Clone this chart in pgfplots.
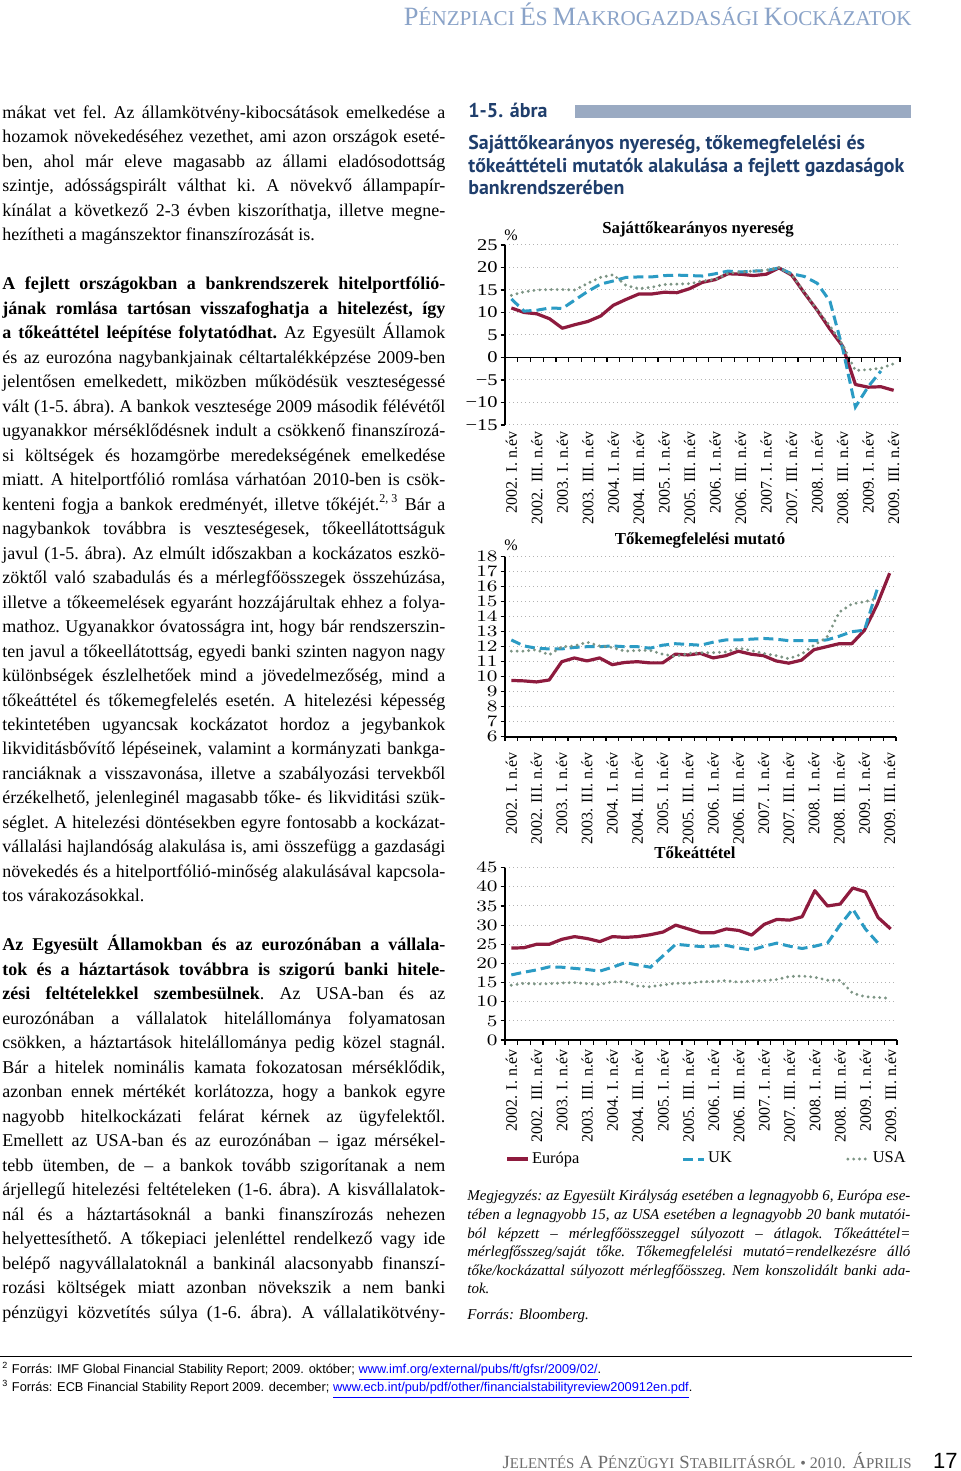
\documentclass[border=0pt]{standalone}
\usepackage{pgfplots}
\pgfplotsset{compat=1.18}
\usepackage{pgfplotstable}
\usepackage{fontspec}
\setmainfont{Liberation Serif}
\newfontfamily\hdsans{PT Sans}
\newfontfamily\ftsans{Liberation Sans}

\definecolor{eur}{HTML}{8E1B3E}
\definecolor{uk}{HTML}{2B9BC4}
\definecolor{usa}{HTML}{7C9484}
\definecolor{navy}{HTML}{1F3E6C}
\definecolor{hdblue}{HTML}{8AA3C8}
\definecolor{barblue}{HTML}{9AAAC2}
\definecolor{ftgray}{HTML}{6D6D6D}

\newcommand\jl[1]{\hbox to \hsize{#1}}
\newcommand\lastl[1]{\hbox{#1}}
\newcommand\fsc[2]{{\fontsize{13.2}{15}\selectfont #1}{\fontsize{10.55}{12}\selectfont #2}}
\newcommand\fscs[2]{{\fontsize{9.3}{11}\selectfont #1}{\fontsize{7.45}{9}\selectfont #2}}

% Sajáttőkearányos nyereség (%)
\pgfplotstableread{
x eur uk usa
0 11.0 13.0 13.8
1 10.0 10.3 14.6
2 9.7 10.5 15.0
3 8.6 11.0 15.1
4 6.5 10.9 15.1
5 7.3 12.8 15.0
6 8.0 14.7 16.5
7 9.2 16.3 17.8
8 11.6 17.0 18.4
9 12.9 17.8 16.0
10 14.1 17.9 15.3
11 14.1 17.9 15.6
12 14.5 18.2 16.2
13 14.4 18.3 16.3
14 15.3 18.2 16.4
15 16.7 18.1 17.0
16 17.3 18.6 17.3
17 18.6 19.2 18.7
18 18.5 19.0 19.0
19 18.2 19.2 19.2
20 18.5 19.3 19.4
21 19.9 19.9 20.0
22 18.3 18.6 18.4
23 14.3 18.0 14.5
24 10.5 16.5 10.5
25 6.3 12.5 7.0
26 2.5 2.0 2.8
27 -6.0 -11.0 -2.9
28 -6.6 -6.5 -2.7
29 -6.5 -3.0 -2.4
30 -7.3 nan -1.4
}\roe

% Tőkemegfelelési mutató (%)
\pgfplotstableread{
x eur uk usa
0 9.75 12.45 11.7
1 9.72 12.05 11.7
2 9.65 11.9 11.8
3 9.78 11.85 11.45
4 11.0 11.85 12.0
5 11.25 11.95 12.05
6 11.05 12.0 12.3
7 11.25 12.0 12.05
8 10.8 12.05 11.95
9 10.95 12.0 11.7
10 11.0 12.0 11.75
11 10.92 11.9 11.75
12 10.92 12.1 11.5
13 11.5 12.2 11.35
14 11.45 12.15 11.55
15 11.55 12.1 11.6
16 11.25 12.3 11.6
17 11.4 12.45 11.65
18 11.7 12.45 11.9
19 11.5 12.5 11.75
20 11.4 12.55 11.55
21 11.05 12.5 11.4
22 10.9 12.4 11.2
23 11.1 12.4 11.5
24 11.8 12.4 12.1
25 12.0 12.45 12.6
26 12.2 12.7 14.3
27 12.2 13.0 14.85
28 13.1 13.1 15.0
29 14.8 15.8 15.2
30 16.9 nan nan
}\car

% Tőkeáttétel
\pgfplotstableread{
x eur uk usa
0 24.0 17.0 14.3
1 24.1 17.7 14.8
2 25.0 18.3 14.6
3 25.0 19.1 14.7
4 26.3 19.0 14.9
5 27.0 18.7 15.0
6 26.5 18.4 14.7
7 25.7 18.0 14.5
8 27.0 19.0 15.2
9 26.8 20.2 15.2
10 27.0 19.6 14.1
11 27.5 19.0 13.9
12 28.2 22.0 14.4
13 30.0 25.0 14.8
14 29.0 24.7 14.8
15 28.0 24.4 15.2
16 28.0 24.5 15.3
17 29.0 24.7 15.5
18 28.6 24.0 15.1
19 27.4 23.5 15.4
20 30.2 24.5 15.5
21 31.5 25.3 15.8
22 31.3 24.5 16.6
23 32.2 23.9 16.7
24 39.0 24.5 16.4
25 35.0 25.3 15.6
26 35.5 30.0 15.6
27 39.7 34.2 12.2
28 38.7 29.0 11.3
29 32.0 25.3 11.1
30 29.0 nan 10.9
}\lev

\pgfplotsset{
  panel/.style={
    scale only axis,
    xmin=-0.5, xmax=30.5,
    axis y line*=left, axis x line*=bottom,
    x axis line style={draw=none},
    y axis line style={line width=0.9pt},
    xtick={0,2,...,30},
    xticklabels={2002. I. n.év,2002. III. n.év,2003. I. n.év,2003. III. n.év,2004. I. n.év,2004. III. n.év,2005. I. n.év,2005. III. n.év,2006. I. n.év,2006. III. n.év,2007. I. n.év,2007. III. n.év,2008. I. n.év,2008. III. n.év,2009. I. n.év,2009. III. n.év},
    xtick style={draw=none},
    xticklabel style={rotate=90, anchor=east, font=\fontsize{8}{9}\selectfont, inner sep=0pt},
    ytick style={line width=0.6pt, black},
    tick align=outside,
    major tick length=2.2pt,
    yticklabel style={font=\fontsize{8.2}{9}\selectfont, inner sep=1pt, xscale=1.25, transform shape},
    ymajorgrids,
    grid style={gray!60, line width=0.5pt, dash pattern=on 0.5pt off 1.5pt},
    clip=false,
    legend image code/.code={\draw[##1] (0pt,0pt) -- (10.5pt,0pt);},
  },
  eurl/.style={draw=eur, line width=1.6pt, line join=round},
  ukl/.style={draw=uk, line width=1.5pt, dash pattern=on 5pt off 2.5pt},
  usal/.style={draw=usa, line width=1.6pt, line cap=round, dash pattern=on 0pt off 2.9pt},
}

\newcommand\xaxisat[1]{%
  \draw[line width=0.9pt] (axis cs:-0.5,#1) -- (axis cs:30.5,#1);
  \pgfplotsinvokeforeach{-0.5,0.5,...,30.5}{\draw[line width=0.6pt] (axis cs:##1,#1) -- ++(0pt,-2.3pt);}%
}

\begin{document}
\begin{tikzpicture}[x=0.5pt,y=0.5pt]
\path[use as bounding box, fill=white] (0,0) rectangle (960,1471);
\coordinate (p1) at (505,1046);
\coordinate (p2) at (505,734.3);
\coordinate (p3) at (505,431);

% header
\node[anchor=base east, inner sep=0pt, text=hdblue] at (912,1471-26)
  {\fsc{P}{ÉNZPIACI} \fsc{É}{S} \fsc{M}{AKROGAZDASÁGI} \fsc{K}{OCKÁZATOK}};

% body text
\node[anchor=base west, inner sep=0pt] at (2,1471-118.5) {\parbox[t]{221.5pt}{%
\fontsize{9}{12.24}\selectfont\frenchspacing
\jl{mákat vet fel. Az államkötvény-kibocsátások emelkedése a}
\jl{hozamok növekedéséhez vezethet, ami azon országok eseté-}
\jl{ben, ahol már eleve magasabb az állami eladósodottság}
\jl{szintje, adósságspirált válthat ki. A növekvő állampapír-}
\jl{kínálat a következő 2-3 évben kiszoríthatja, illetve megne-}
\lastl{hezítheti a magánszektor finanszírozását is.}
\vskip 12.24pt
\jl{\bfseries A fejlett országokban a bankrendszerek hitelportfólió-}
\jl{\bfseries jának romlása tartósan visszafoghatja a hitelezést, így}
\jl{{\bfseries a tőkeáttétel leépítése folytatódhat.} Az Egyesült Államok}
\jl{és az eurozóna nagybankjainak céltartalékképzése 2009-ben}
\jl{jelentősen emelkedett, miközben működésük veszteségessé}
\jl{vált (1-5. ábra). A bankok vesztesége 2009 második félévétől}
\jl{ugyanakkor mérséklődésnek indult a csökkenő finanszírozá-}
\jl{si költségek és hozamgörbe meredekségének emelkedése}
\jl{miatt. A hitelportfólió romlása várhatóan 2010-ben is csök-}
\jl{kenteni fogja a bankok eredményét, illetve tőkéjét.\textsuperscript{2, 3} Bár a}
\jl{nagybankok továbbra is veszteségesek, tőkeellátottságuk}
\jl{javul (1-5. ábra). Az elmúlt időszakban a kockázatos eszkö-}
\jl{zöktől való szabadulás és a mérlegfőösszegek összehúzása,}
\jl{illetve a tőkeemelések egyaránt hozzájárultak ehhez a folya-}
\jl{mathoz. Ugyanakkor óvatosságra int, hogy bár rendszerszin-}
\jl{ten javul a tőkeellátottság, egyedi banki szinten nagyon nagy}
\jl{különbségek észlelhetőek mind a jövedelmezőség, mind a}
\jl{tőkeáttétel és tőkemegfelelés esetén. A hitelezési képesség}
\jl{tekintetében ugyancsak kockázatot hordoz a jegybankok}
\jl{likviditásbővítő lépéseinek, valamint a kormányzati bankga-}
\jl{ranciáknak a visszavonása, illetve a szabályozási tervekből}
\jl{érzékelhető, jelenleginél magasabb tőke- és likviditási szük-}
\jl{séglet. A hitelezési döntésekben egyre fontosabb a kockázat-}
\jl{vállalási hajlandóság alakulása is, ami összefügg a gazdasági}
\jl{növekedés és a hitelportfólió-minőség alakulásával kapcsola-}
\lastl{tos várakozásokkal.}
\vskip 12.24pt
\jl{\bfseries Az Egyesült Államokban és az eurozónában a vállala-}
\jl{\bfseries tok és a háztartások továbbra is szigorú banki hitele-}
\jl{{\bfseries zési feltételekkel szembesülnek}. Az USA-ban és az}
\jl{eurozónában a vállalatok hitelállománya folyamatosan}
\jl{csökken, a háztartások hitelállománya pedig közel stagnál.}
\jl{Bár a hitelek nominális kamata fokozatosan mérséklődik,}
\jl{azonban ennek mértékét korlátozza, hogy a bankok egyre}
\jl{nagyobb hitelkockázati felárat kérnek az ügyfelektől.}
\jl{Emellett az USA-ban és az eurozónában – igaz mérsékel-}
\jl{tebb ütemben, de – a bankok tovább szigorítanak a nem}
\jl{árjellegű hitelezési feltételeken (1-6. ábra). A kisvállalatok-}
\jl{nál és a háztartásoknál a banki finanszírozás nehezen}
\jl{helyettesíthető. A tőkepiaci jelenléttel rendelkező vagy ide}
\jl{belépő nagyvállalatoknál a bankinál alacsonyabb finanszí-}
\jl{rozási költségek miatt azonban növekszik a nem banki}
\jl{pénzügyi közvetítés súlya (1-6. ábra). A vállalatikötvény-}
}};

% chart heading
\node[anchor=base west, inner sep=0pt, text=navy] at (468,1471-118)
  {\hdsans\bfseries\fontsize{10}{12}\selectfont 1-5. ábra};
\fill[barblue] (575,1471-105) rectangle (911,1471-118);
\node[anchor=base west, inner sep=0pt, text=navy] at (468,1471-150) {\parbox[t]{240pt}{%
  \hdsans\bfseries\fontsize{9.95}{11.25}\selectfont\raggedright
  Sajáttőkearányos nyereség, tőkemegfelelési és\\
  tőkeáttételi mutatók alakulása a fejlett gazdaságok\\
  bankrendszerében}};

% panel titles
\node[anchor=base, inner sep=0pt] at (698,1471-234) {\bfseries\fontsize{8.4}{10}\selectfont Sajáttőkearányos nyereség};
\node[anchor=base, inner sep=0pt] at (700,1471-545) {\bfseries\fontsize{8.4}{10}\selectfont Tőkemegfelelési mutató};
\node[anchor=base, inner sep=0pt] at (695,1471-859) {\bfseries\fontsize{8.4}{10}\selectfont Tőkeáttétel};
\node[anchor=base, inner sep=0pt] at (511,1471-241) {\fontsize{8}{9}\selectfont\%};
\node[anchor=base, inner sep=0pt] at (511,1471-551) {\fontsize{8}{9}\selectfont\%};

% panel 1
\begin{axis}[panel, at={(p1)}, anchor=south west,
  width=197.5pt, height=90pt,
  ymin=-15, ymax=25, ytick={-15,-10,...,25},
  yticklabels={−15,−10,−5,0,5,10,15,20,25},
  xticklabel shift=1pt]
\addplot[eurl] table[x=x,y=eur]{\roe};
\addplot[ukl] table[x=x,y=uk]{\roe};
\addplot[usal] table[x=x,y=usa]{\roe};
\xaxisat{0}
\end{axis}

% panel 2
\begin{axis}[panel, at={(p2)}, anchor=south west,
  width=195.5pt, height=90pt,
  ymin=6, ymax=18, ytick={6,7,...,18},
  xticklabel shift=5.5pt]
\addplot[eurl] table[x=x,y=eur]{\car};
\addplot[ukl] table[x=x,y=uk]{\car};
\addplot[usal] table[x=x,y=usa]{\car};
\xaxisat{6}
\end{axis}

% panel 3
\begin{axis}[panel, at={(p3)}, anchor=south west,
  width=196pt, height=86.15pt,
  ymin=0, ymax=45, ytick={0,5,...,45},
  xticklabel shift=2.5pt,
  legend columns=3,
  legend style={at={(axis description cs:0,-0.691)}, anchor=west, draw=none, fill=none,
    font=\fontsize{8.2}{9}\selectfont, inner sep=0pt,
    nodes={inner sep=1.2pt}}]
\addplot[eurl] table[x=x,y=eur]{\lev};
\addlegendentry{Európa\hspace*{50pt}}
\addplot[ukl] table[x=x,y=uk]{\lev};
\addlegendentry{UK\hspace*{56pt}}
\addplot[usal] table[x=x,y=usa]{\lev};
\addlegendentry{USA}
\xaxisat{0}
\end{axis}

% note
\node[anchor=base west, inner sep=0pt] at (467,1471-1201) {\parbox[t]{221.5pt}{%
\itshape\fontsize{7.5}{9.3}\selectfont\frenchspacing
\jl{Megjegyzés: az Egyesült Királyság esetében a legnagyobb 6, Európa ese-}
\jl{tében a legnagyobb 15, az USA esetében a legnagyobb 20 bank mutatói-}
\jl{ból képzett – mérlegfőösszeggel súlyozott – átlagok. Tőkeáttétel=}
\jl{mérlegfősszeg/saját tőke. Tőkemegfelelési mutató=rendelkezésre álló}
\jl{tőke/kockázattal súlyozott mérlegfőösszeg. Nem konszolidált banki ada-}
\lastl{tok.}}};
\node[anchor=base west, inner sep=0pt] at (467,1471-1320) {\itshape\fontsize{7.5}{9}\selectfont Forrás: Bloomberg.};

% footnotes
\draw[line width=0.5pt] (0,1471-1357) -- (912,1471-1357);
\node[anchor=base west, inner sep=0pt] at (2,1471-1374) {\ftsans\fontsize{6.4}{7.5}\selectfont
  \textsuperscript{2} Forrás: IMF Global Financial Stability Report; 2009. október; {\color{blue}\underline{www.imf.org/external/pubs/ft/gfsr/2009/02/}}.};
\node[anchor=base west, inner sep=0pt] at (2,1471-1392) {\ftsans\fontsize{6.4}{7.5}\selectfont
  \textsuperscript{3} Forrás: ECB Financial Stability Report 2009. december; {\color{blue}\underline{www.ecb.int/pub/pdf/other/financialstabilityreview200912en.pdf}}.};

% footer
\node[anchor=base east, inner sep=0pt, text=ftgray] at (912,1471-1468)
  {\fscs{J}{ELENTÉS} \fscs{A}{} \fscs{P}{ÉNZÜGYI} \fscs{S}{TABILITÁSRÓL} {\fontsize{8}{9}\selectfont • 2010.} \fscs{Á}{PRILIS}};
\node[anchor=base east, inner sep=0pt] at (958,1471-1468) {\ftsans\fontsize{11}{12}\selectfont 17};
\end{tikzpicture}
\end{document}
